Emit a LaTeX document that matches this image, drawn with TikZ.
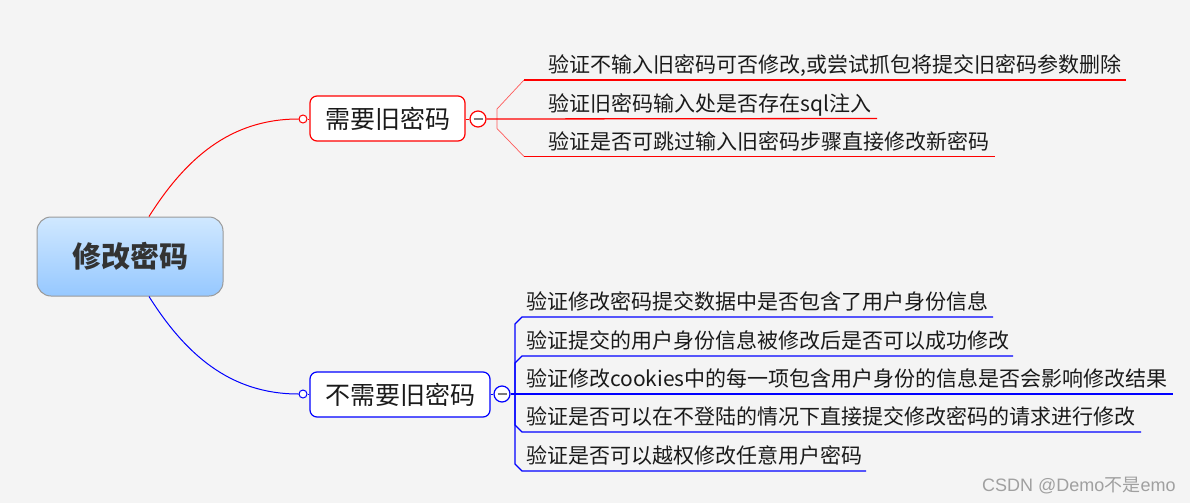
\documentclass[tikz,border=0pt]{standalone}
\usepackage{fontspec}
\setmainfont{Noto Sans CJK SC}
\newfontfamily\wmfont{Liberation Sans}
\definecolor{bg}{HTML}{F4F4F4}
\definecolor{rootborder}{HTML}{9A9A9A}
\definecolor{roottop}{HTML}{D0E8FF}
\definecolor{rootbot}{HTML}{96C8FF}
\definecolor{roottext}{HTML}{333333}
\definecolor{leafc}{HTML}{1A1A1A}
\definecolor{mred}{HTML}{FF0000}
\definecolor{mblue}{HTML}{0000FF}
\definecolor{thinred}{HTML}{FF5A5A}
\definecolor{minusc}{HTML}{7A7A7A}
\definecolor{wm}{HTML}{A0A0A0}
\tikzset{
  rootbox/.style={draw=rootborder, line width=1pt, rounded corners=14pt,
    top color=roottop, bottom color=rootbot, minimum width=186pt, minimum height=79pt,
    inner sep=0pt, font=\fontsize{29}{33}\selectfont\bfseries, text=roottext},
  subbox/.style={line width=1.2pt, rounded corners=7pt, fill=white, minimum height=45pt,
    inner sep=0pt, font=\fontsize{25}{29}\selectfont, text=leafc},
  knob/.style={circle, line width=1pt, fill=white, minimum size=8pt, inner sep=0pt},
  minusknob/.style={circle, line width=1.2pt, fill=white, minimum size=16pt, inner sep=0pt},
  minussign/.style={draw=minusc, line width=2pt},
  leaf/.style={anchor=base west, inner sep=0pt, font=\fontsize{21}{25}\selectfont, text=leafc},
  curve/.style={line width=1pt},
  uline/.style={line width=1.3pt},
  thinline/.style={draw=thinred, line width=0.7pt},
}
\begin{document}
\begin{tikzpicture}[x=1pt,y=-1pt]
\fill[bg] (0,0) rectangle (1190,503);
\useasboundingbox (0,0) rectangle (1190,503);

% root
\node[rootbox] (root) at (130,256.5) {修改密码};

% upper branch
\node[subbox, draw=mred, minimum width=155pt] (n1) at (387.5,118.5) {需要旧密码};
\node[knob, draw=mred] (k1) at (303,119) {};
\node[minusknob, draw=mred] (m1) at (478,119) {};
\draw[minussign] ([xshift=-4.5pt]m1.center) -- ([xshift=4.5pt]m1.center);
\draw[mred, line width=1pt] (k1.east) -- (k1.east -| n1.west);
\draw[mred, line width=1pt] (m1.west -| n1.east) -- (m1.west);
\draw[mred, curve] ([xshift=19pt]root.north) .. controls +(36,-57) and +(-69,0) .. (k1.west);

\node[leaf] (u1) at (548,72.5) {验证不输入旧密码可否修改,或尝试抓包将提交旧密码参数删除};
\node[leaf] (u2) at (548,111) {验证旧密码输入处是否存在sql注入};
\node[leaf] (u3) at (548,149) {验证是否可跳过输入旧密码步骤直接修改新密码};
\coordinate (u1s) at (524,80);  \coordinate (u1e) at (1126,80);
\coordinate (u2e) at (877,118.5);
\coordinate (u3s) at (524,156.5); \coordinate (u3e) at (995,156.5);
\draw[thinline] (u1s) -- (497,109) -- (497,128.5) -- (u3s);
\draw[mred, uline] (u1s) -- (u1e);
\draw[mred, uline] (m1.east) -- (u2e);
\draw[mred, uline] (u3s) -- (u3e);

% lower branch
\node[subbox, draw=mblue, minimum width=180pt] (n2) at (400,394.5) {不需要旧密码};
\node[knob, draw=mblue] (k2) at (303,394) {};
\node[minusknob, draw=mblue] (m2) at (502,394) {};
\draw[minussign] ([xshift=-4.5pt]m2.center) -- ([xshift=4.5pt]m2.center);
\draw[mblue, line width=1pt] (k2.east) -- (k2.east -| n2.west);
\draw[mblue, line width=1pt] (m2.west -| n2.east) -- (m2.west);
\draw[mblue, curve] ([xshift=19pt]root.south) .. controls +(36,57) and +(-69,0) .. (k2.west);

\node[leaf] (b1) at (526,309.5) {验证修改密码提交数据中是否包含了用户身份信息};
\node[leaf] (b2) at (526,348.5) {验证提交的用户身份信息被修改后是否可以成功修改};
\node[leaf] (b3) at (526,386.5) {验证修改cookies中的每一项包含用户身份的信息是否会影响修改结果};
\node[leaf] (b4) at (526,424.5) {验证是否可以在不登陆的情况下直接提交修改密码的请求进行修改};
\node[leaf] (b5) at (526,463.5) {验证是否可以越权修改任意用户密码};
\coordinate (fork) at (515,394);
\coordinate (b1e) at (993,317);
\coordinate (b2e) at (1013,356);
\coordinate (b3e) at (1173,394);
\coordinate (b4e) at (1141,432);
\coordinate (b5e) at (866,471);
\draw[mblue, uline] (m2.east) -- (b3e);
\draw[mblue, uline] (fork) -- (515,324) -- (522,317) -- (b1e);
\draw[mblue, uline] (fork) -- (515,363) -- (522,356) -- (b2e);
\draw[mblue, uline] (fork) -- (515,425) -- (522,432) -- (b4e);
\draw[mblue, uline] (fork) -- (515,464) -- (522,471) -- (b5e);

% watermark
\node[anchor=base west, inner sep=0pt, text=wm, font=\fontsize{18}{21}\selectfont] (wmk) at (982,491) {{\wmfont CSDN @Demo}不是{\wmfont emo}};
\end{tikzpicture}
\end{document}
